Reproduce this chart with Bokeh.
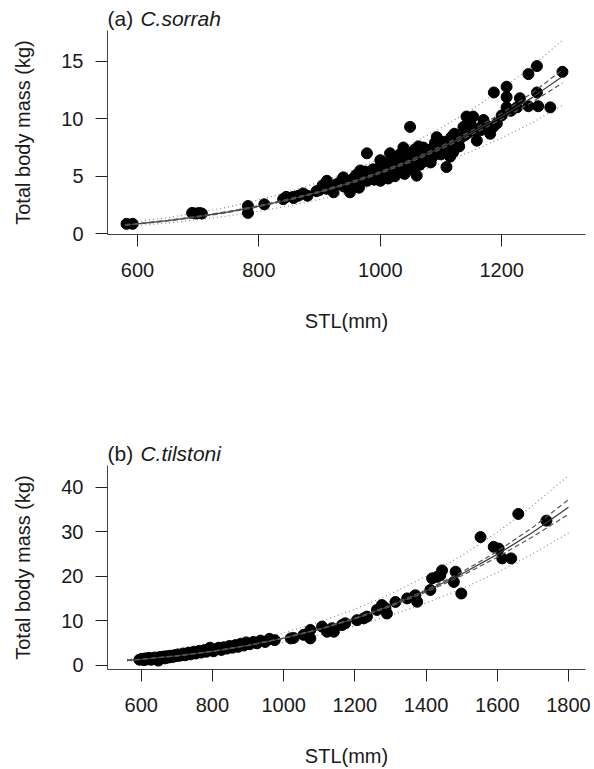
from bokeh.plotting import figure
from bokeh.layouts import column
from bokeh.models import FixedTicker, Range1d
from bokeh.core.properties import value
from bokeh.embed import file_html
from bokeh.resources import INLINE

FONT = "Liberation Sans"

# ---------------- Panel (a) C. sorrah ----------------
a_stl = [582, 592, 690, 696, 702, 706, 782, 782, 809, 840, 845, 857, 857, 865, 873, 880,
         895, 900, 905, 912, 912, 918, 923, 928, 934, 939, 944, 950, 950, 955, 961, 965,
         967, 972, 978, 978, 983, 988, 990, 994, 1000, 1000, 1003, 1006, 1010, 1013, 1016,
         1018, 1021, 1024, 1027, 1030, 1033, 1036, 1038, 1040, 1043, 1046, 1049, 1050, 1053,
         1055, 1058, 1060, 1062, 1065, 1068, 1071, 1074, 1077, 1080, 1082, 1085, 1088, 1090,
         1093, 1095, 1098, 1100, 1103, 1106, 1109, 1112, 1115, 1118, 1120, 1126, 1130, 1134,
         1137, 1142, 1145, 1150, 1153, 1159, 1165, 1170, 1176, 1181, 1186, 1187, 1192, 1200,
         1208, 1208, 1208, 1215, 1225, 1230, 1244, 1244, 1258, 1258, 1260, 1280, 1300,
         985, 997, 1008, 1015, 1025, 1035, 1045, 1057, 1066, 1076, 1086, 1096, 1012, 1028,
         1042, 1052, 1070, 1084, 960, 975, 940, 1005, 1019, 1032, 1047, 1063, 1079, 1092,
         992, 1002, 1022, 1037, 1056, 1068, 1083, 1102, 1117, 1128, 1140, 1155, 1168, 1122]
a_mass = [0.85, 0.85, 1.80, 1.75, 1.80, 1.75, 2.40, 1.80, 2.55, 3.00, 3.20, 3.10, 3.20, 3.30, 3.50, 3.30,
          3.70, 3.80, 4.20, 4.60, 3.90, 4.10, 3.60, 4.30, 4.50, 4.90, 4.20, 3.60, 4.50, 4.80, 4.35, 4.00,
          5.50, 4.90, 7.00, 4.60, 5.20, 5.60, 4.70, 5.00, 6.40, 4.60, 5.40, 5.90, 5.20, 4.80, 7.00,
          5.60, 6.20, 5.00, 5.80, 6.50, 5.40, 6.00, 7.50, 5.20, 6.60, 5.70, 9.30, 6.20, 6.90,
          5.50, 6.40, 5.05, 7.10, 6.00, 6.70, 7.50, 6.30, 7.00, 6.50, 7.00, 7.40, 6.80, 7.90,
          8.40, 7.20, 7.80, 6.90, 7.50, 8.00, 5.80, 7.30, 6.70, 7.80, 7.10, 8.10, 7.60, 8.40,
          9.30, 10.20, 8.80, 9.40, 10.20, 8.10, 9.00, 9.90, 9.40, 8.70, 9.30, 12.30, 9.60, 10.30,
          12.80, 11.90, 11.00, 10.70, 11.00, 11.80, 11.10, 13.90, 14.60, 12.30, 11.10, 11.00, 14.10,
          5.10, 5.70, 6.10, 5.30, 6.30, 5.90, 6.80, 6.00, 6.60, 7.30, 7.10, 7.70, 4.90, 5.50,
          6.10, 5.80, 6.40, 6.60, 5.10, 5.40, 4.10, 5.00, 6.50, 6.90, 6.30, 7.60, 7.20, 7.00,
          5.40, 5.10, 5.60, 6.40, 7.30, 6.90, 6.20, 7.20, 8.40, 7.90, 8.60, 9.00, 9.40, 8.70]

a_curve_stl = [580, 600, 650, 700, 750, 800, 850, 900, 950, 1000, 1050, 1100, 1150, 1200, 1250, 1300]
a_fit = [0.75, 0.85, 1.13, 1.48, 1.89, 2.39, 2.97, 3.64, 4.42, 5.32, 6.34, 7.49, 8.78, 10.23, 11.85, 13.70]
a_ci_hi = [0.78, 0.88, 1.16, 1.52, 1.93, 2.44, 3.02, 3.70, 4.49, 5.40, 6.44, 7.62, 8.96, 10.49, 12.24, 14.28]
a_ci_lo = [0.72, 0.82, 1.10, 1.44, 1.85, 2.34, 2.92, 3.58, 4.35, 5.24, 6.24, 7.36, 8.60, 9.97, 11.46, 13.12]
a_pi_hi = [0.92, 1.05, 1.39, 1.82, 2.32, 2.94, 3.65, 4.48, 5.44, 6.54, 7.80, 9.21, 10.80, 12.58, 14.58, 16.85]
a_pi_lo = [0.61, 0.69, 0.92, 1.21, 1.54, 1.95, 2.42, 2.97, 3.60, 4.34, 5.17, 6.10, 7.16, 8.34, 9.66, 11.17]
a_xticks = [600, 800, 1000, 1200]
a_yticks = [0, 5, 10, 15]

# ---------------- Panel (b) C. tilstoni ----------------
b_stl = [595, 602, 608, 612, 618, 622, 628, 633, 638, 642, 648, 652, 657, 662, 667, 672, 677,
         682, 688, 693, 698, 703, 708, 713, 718, 723, 728, 733, 738, 743, 748, 753, 758, 763,
         768, 773, 778, 783, 788, 793, 798, 803, 810, 818, 825, 832, 840, 848, 856, 865, 872,
         880, 888, 895, 905, 915, 925, 935, 948, 960, 975, 1020, 1028,
         1056, 1075, 1075, 1108, 1122, 1136, 1141, 1164, 1173, 1206, 1225, 1234, 1262, 1276,
         1290, 1286, 1314, 1347, 1366, 1375, 1370, 1412, 1417, 1431, 1445, 1440, 1483, 1478,
         1499, 1553, 1590, 1604, 1614, 1639, 1659, 1738]
b_mass = [1.2, 1.4, 1.1, 1.5, 1.3, 1.6, 1.2, 1.5, 1.7, 1.4, 1.0, 1.8, 1.6, 1.9, 1.5, 2.0, 1.7,
          2.1, 1.8, 2.2, 2.0, 2.4, 2.1, 2.3, 2.6, 2.2, 2.5, 2.8, 2.4, 2.7, 3.0, 2.6, 2.9, 3.2,
          2.8, 3.1, 3.4, 3.0, 3.3, 3.9, 3.5, 3.1, 3.6, 3.9, 3.4, 4.0, 3.7, 4.3, 3.9, 4.5, 4.1,
          4.8, 4.4, 5.1, 4.7, 5.2, 4.9, 5.5, 5.2, 5.9, 5.6, 6.0, 6.1,
          6.8, 7.9, 6.0, 8.65, 7.5, 8.3, 7.5, 9.0, 9.4, 10.1, 10.5, 10.9, 12.4, 13.5,
          11.6, 12.8, 14.2, 15.0, 15.4, 14.25, 15.7, 16.9, 19.5, 19.85, 21.3, 20.2, 21.0, 18.7,
          16.1, 28.8, 26.6, 26.2, 24.0, 24.0, 34.0, 32.5]

b_curve_stl = [560, 600, 700, 800, 900, 1000, 1100, 1200, 1300, 1400, 1500, 1600, 1700, 1800]
b_fit = [1.06, 1.30, 2.07, 3.09, 4.41, 6.05, 8.06, 10.47, 13.33, 16.65, 20.50, 24.90, 29.90, 35.50]
b_ci_hi = [1.09, 1.33, 2.11, 3.13, 4.45, 6.10, 8.13, 10.57, 13.49, 16.90, 20.91, 25.57, 30.98, 37.20]
b_ci_lo = [1.03, 1.27, 2.03, 3.05, 4.37, 6.00, 7.99, 10.37, 13.17, 16.40, 20.09, 24.25, 28.88, 33.94]
b_pi_hi = [1.27, 1.56, 2.48, 3.71, 5.29, 7.26, 9.67, 12.56, 16.00, 19.98, 24.60, 29.88, 35.88, 42.60]
b_pi_lo = [0.89, 1.09, 1.73, 2.59, 3.69, 5.06, 6.75, 8.76, 11.16, 13.94, 17.16, 20.84, 25.03, 29.71]
b_xticks = [600, 800, 1000, 1200, 1400, 1600, 1800]
b_yticks = [0, 10, 20, 30, 40]


def make_header(height, tag, species):
    # the column aligns this frame with the panels' frames (x 107..586 px),
    # so the x range is expressed in page pixels
    h = figure(width=594, height=height, output_backend="svg", toolbar_location=None,
               x_range=Range1d(107, 586), y_range=Range1d(0, height),
               x_axis_location=None, y_axis_location=None, title=None,
               min_border=0, min_border_left=0, min_border_right=0,
               min_border_top=0, min_border_bottom=0)
    h.outline_line_color = None
    h.grid.visible = False
    h.text(x=[107], y=[12], text=[tag], text_font=value(FONT), text_font_size="21px",
           text_color="#1a1a1a", text_baseline="alphabetic", text_align="left")
    h.text(x=[140], y=[12], text=[species], text_font=value(FONT), text_font_size="21px",
           text_font_style="italic", text_color="#1a1a1a",
           text_baseline="alphabetic", text_align="left")
    return h


def make_panel(stl, mass, cx, fit, cih, cil, pih, pil, xticks, yticks,
               xr, yr, height, bbot, bright):
    p = figure(width=594, height=height, output_backend="svg", toolbar_location=None,
               x_range=Range1d(*xr), y_range=Range1d(*yr), title=None,
               min_border_left=107, min_border_right=bright,
               min_border_top=0, min_border_bottom=bbot)
    p.outline_line_color = None
    p.grid.visible = False
    p.background_fill_color = "white"
    p.border_fill_color = "white"

    for ax in (p.xaxis[0], p.yaxis[0]):
        ax.major_tick_in = 0
        ax.major_tick_out = 12
        ax.minor_tick_line_color = None
        ax.axis_line_color = "#444444"
        ax.major_tick_line_color = "#222222"
        ax.major_label_text_font = FONT
        ax.major_label_text_font_size = "20px"
        ax.major_label_text_color = "#1a1a1a"
        ax.axis_label_text_font = FONT
        ax.axis_label_text_font_size = "20px"
        ax.axis_label_text_font_style = "normal"
        ax.axis_label_text_color = "#1a1a1a"
    p.xaxis.ticker = FixedTicker(ticks=xticks)
    p.yaxis.ticker = FixedTicker(ticks=yticks)
    p.xaxis.axis_label = "STL(mm)"
    p.yaxis.axis_label = "Total body mass (kg)"
    p.xaxis.major_label_standoff = 16
    p.xaxis.axis_label_standoff = 30
    p.yaxis.major_label_standoff = 12
    p.yaxis.axis_label_standoff = 24

    p.line(cx, pih, line_color="#8c8c8c", line_dash="1 3", line_width=1.2)
    p.line(cx, pil, line_color="#8c8c8c", line_dash="1 3", line_width=1.2)
    p.scatter(stl, mass, size=11, fill_color="black", line_color="black")
    p.line(cx, fit, line_color="#3a3a3a", line_width=1.2)
    p.line(cx, cih, line_color="#555555", line_dash="5 3", line_width=1.2)
    p.line(cx, cil, line_color="#555555", line_dash="5 3", line_width=1.2)
    return p


ha = make_header(30, "(a)", "C.sorrah")
pa = make_panel(a_stl, a_mass, a_curve_stl, a_fit, a_ci_hi, a_ci_lo, a_pi_hi, a_pi_lo,
                a_xticks, a_yticks, (550.6, 1338.0), (-0.08, 17.7), 355, 151, 8)
hb = make_header(80, "(b)", "C.tilstoni")
pb = make_panel(b_stl, b_mass, b_curve_stl, b_fit, b_ci_hi, b_ci_lo, b_pi_hi, b_pi_lo,
                b_xticks, b_yticks, (505.3, 1847.8), (-1.0, 44.9), 304, 99, 9)

layout = column(ha, pa, hb, pb, spacing=0)
open("out.html", "w").write(file_html(layout, INLINE))
